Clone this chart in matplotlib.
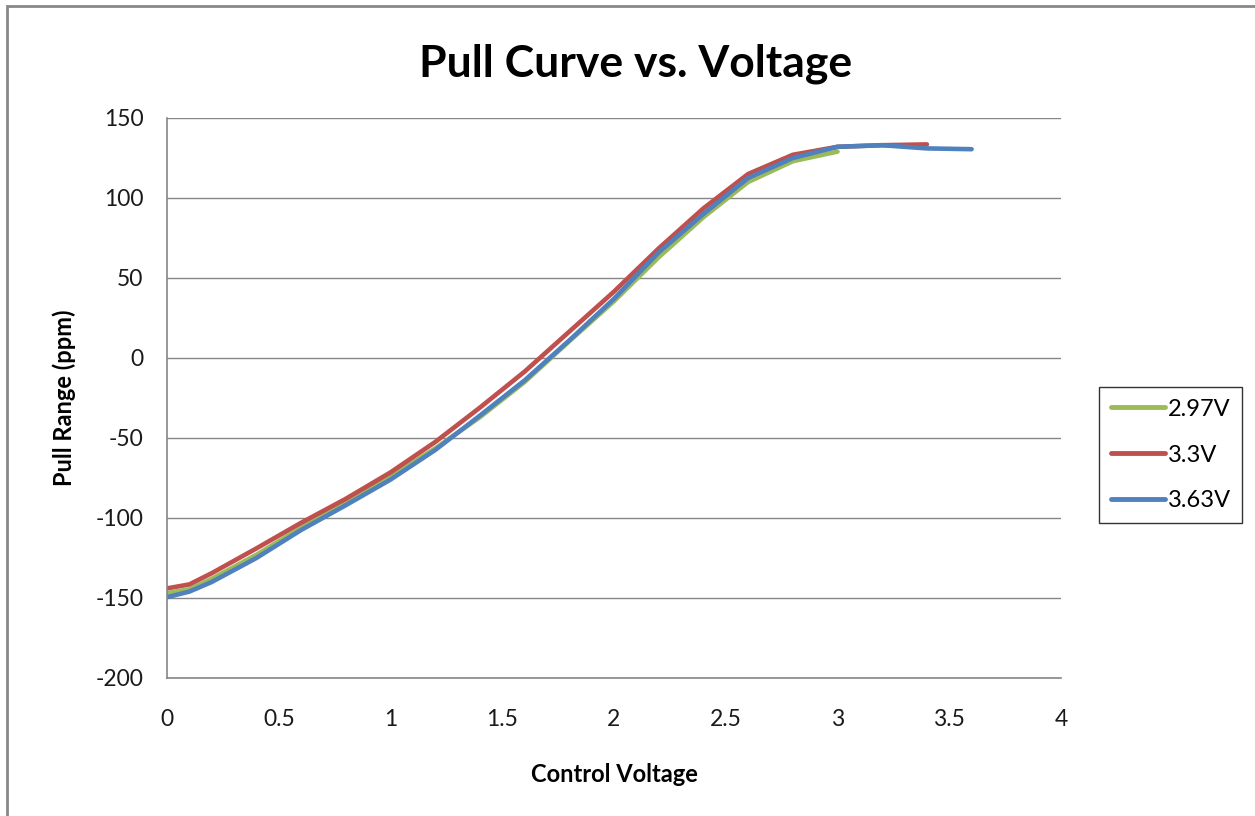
import matplotlib
matplotlib.use("Agg")
import matplotlib.pyplot as plt
from matplotlib.patches import Rectangle

x_297 = [0, 0.1, 0.2, 0.4, 0.6, 0.8, 1.0, 1.2, 1.4, 1.6, 1.8, 2.0, 2.2, 2.4, 2.6, 2.8, 3.0]
y_297 = [-147, -144.5, -138, -123, -106, -90, -74, -56.5, -37, -15, 10.5, 35.5, 63, 88, 110, 123, 129]

x_33 = [0, 0.1, 0.2, 0.4, 0.6, 0.8, 1.0, 1.2, 1.4, 1.6, 1.8, 2.0, 2.2, 2.4, 2.6, 2.8, 3.0, 3.2, 3.4]
y_33 = [-144, -141.5, -134.5, -119, -103, -88, -71.5, -52.5, -31, -8.5, 16.5, 41.5, 68.5, 93.5, 115, 127, 132, 133, 133.5]

x_363 = [0, 0.1, 0.2, 0.4, 0.6, 0.8, 1.0, 1.2, 1.4, 1.6, 1.8, 2.0, 2.2, 2.4, 2.6, 2.8, 3.0, 3.2, 3.4, 3.6]
y_363 = [-149.5, -146, -140, -125, -107.5, -92, -76, -57.5, -36, -14, 11, 37, 66, 90, 112.5, 125, 132, 133, 131, 130.5]

series_names = ["2.97V", "3.3V", "3.63V"]
colors = ["#9BBB59", "#C0504D", "#4F81BD"]

x_ticks = [0, 0.5, 1, 1.5, 2, 2.5, 3, 3.5, 4]
x_tick_labels = ["0", "0.5", "1", "1.5", "2", "2.5", "3", "3.5", "4"]
y_ticks = [-200, -150, -100, -50, 0, 50, 100, 150]
y_tick_labels = ["-200", "-150", "-100", "-50", "0", "50", "100", "150"]

plt.rcParams['font.family'] = ['Lato', 'DejaVu Sans']
plt.rcParams['axes.unicode_minus'] = False

fig = plt.figure(figsize=(12.55, 8.16), dpi=100)
W, H = 1255, 816
ax = fig.add_axes([167 / W, 1 - 678 / H, (1061 - 167) / W, (678 - 118) / H])

for xs, ys, name, c in zip([x_297, x_33, x_363], [y_297, y_33, y_363], series_names, colors):
    ax.plot(xs, ys, color=c, lw=3.3, label=name, solid_joinstyle='round', solid_capstyle='round')

ax.set_xlim(0, 4)
ax.set_ylim(-200, 150)
ax.set_xticks(x_ticks)
ax.set_xticklabels(x_tick_labels)
ax.set_yticks(y_ticks)
ax.set_yticklabels(y_tick_labels)
ax.yaxis.grid(True, color="#868686", lw=1.0)
ax.set_axisbelow(True)
for s in ["top", "right"]:
    ax.spines[s].set_visible(False)
for s in ["left", "bottom"]:
    ax.spines[s].set_color("#868686")
    ax.spines[s].set_linewidth(1.2)
ax.tick_params(axis='both', colors="#868686", labelcolor="#1a1a1a", labelsize=16.5, length=0)
ax.tick_params(axis='x', pad=22)
ax.tick_params(axis='y', pad=17)

ax.set_title("Pull Curve vs. Voltage", fontsize=32, fontweight='bold', pad=30, x=(636 - 167) / (1061 - 167))
ax.set_xlabel("Control Voltage", fontsize=17, fontweight='bold', labelpad=24)
ax.set_ylabel("Pull Range (ppm)", fontsize=17, fontweight='bold', labelpad=14)

leg = ax.legend(loc='center left', bbox_to_anchor=((1099 - 167) / (1061 - 167), (678 - 455) / 560),
                frameon=True, fancybox=False, fontsize=17, handlelength=2.3, handletextpad=0.1,
                labelspacing=1.05, borderpad=0.5, borderaxespad=0)
leg.get_frame().set_edgecolor("#000000")
leg.get_frame().set_linewidth(1.0)
for line in leg.get_lines():
    line.set_linewidth(3.5)

fig.patches.append(Rectangle((7 / W, -0.01), 1.05, 1 - 6 / H + 0.01, transform=fig.transFigure,
                             fill=False, edgecolor="#888888", lw=2.0, clip_on=False))

fig.savefig("out.png", dpi=100)
